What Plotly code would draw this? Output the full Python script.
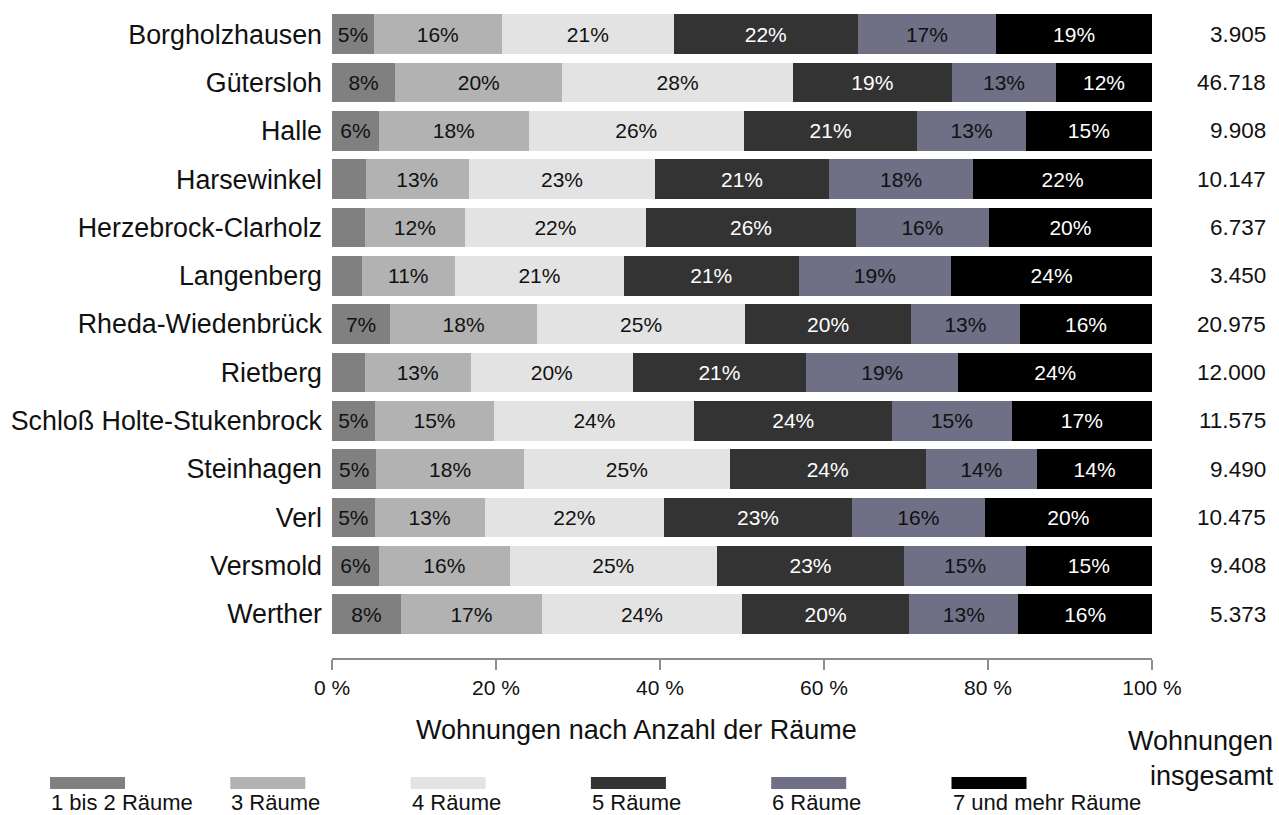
import plotly.graph_objects as go

# Gemeinden im Kreis Gütersloh
gemeinden = [
    "Borgholzhausen", "Gütersloh", "Halle", "Harsewinkel", "Herzebrock-Clarholz",
    "Langenberg", "Rheda-Wiedenbrück", "Rietberg", "Schloß Holte-Stukenbrock",
    "Steinhagen", "Verl", "Versmold", "Werther",
]

# Anteile der Wohnungen nach Anzahl der Räume (in %)
raeume_1_2 = [5.1, 7.7, 5.7, 4.1, 4.0, 3.6, 7.1, 4.0, 5.2, 5.4, 5.2, 5.7, 8.4]
raeume_3 = [15.6, 20.4, 18.3, 12.6, 12.2, 11.4, 17.9, 12.9, 14.6, 18.0, 13.4, 16.0, 17.2]
raeume_4 = [21.0, 28.1, 26.2, 22.7, 22.1, 20.6, 25.4, 19.8, 24.4, 25.1, 21.9, 25.2, 24.4]
raeume_5 = [22.4, 19.4, 21.2, 21.2, 25.6, 21.3, 20.2, 21.1, 24.1, 23.9, 22.9, 22.9, 20.4]
raeume_6 = [16.9, 12.7, 13.2, 17.6, 16.2, 18.6, 13.3, 18.6, 14.6, 13.6, 16.2, 14.8, 13.3]
raeume_7 = [19.0, 11.7, 15.4, 21.8, 19.9, 24.5, 16.1, 23.6, 17.1, 14.0, 20.4, 15.4, 16.3]

# Wohnungen insgesamt
wohnungen_gesamt = [3905, 46718, 9908, 10147, 6737, 3450, 20975, 12000, 11575, 9490, 10475, 9408, 5373]

reihen = [
    ("1 bis 2 Räume", raeume_1_2, "#808080", "#111111"),
    ("3 Räume", raeume_3, "#b2b2b2", "#111111"),
    ("4 Räume", raeume_4, "#e3e3e3", "#111111"),
    ("5 Räume", raeume_5, "#333333", "#ffffff"),
    ("6 Räume", raeume_6, "#6f6f86", "#111111"),
    ("7 und mehr Räume", raeume_7, "#000000", "#ffffff"),
]

FONT = "Liberation Sans, Arial, sans-serif"

fig = go.Figure()
for name, werte, farbe, textfarbe in reihen:
    beschriftung = [f"{v:.0f}%" if v >= 4.5 else "" for v in werte]
    fig.add_trace(go.Bar(
        y=gemeinden, x=werte, name=name, orientation="h",
        marker=dict(color=farbe, line=dict(width=0)),
        text=beschriftung, textposition="inside", insidetextanchor="middle",
        textangle=0, constraintext="none",
        textfont=dict(family=FONT, size=21, color=textfarbe),
        hoverinfo="name+x+y", showlegend=False,
    ))

# Gesamtzahl der Wohnungen rechts neben den Balken
for g, n in zip(gemeinden, wohnungen_gesamt):
    fig.add_annotation(
        x=1.1415, xref="paper", y=g, yref="y", xanchor="right", yanchor="middle",
        text=f"{n:,}".replace(",", "."), showarrow=False,
        font=dict(family=FONT, size=22.5, color="#111111"),
    )

# Achsentitel und Spaltenüberschrift
fig.add_annotation(
    x=(636 - 332) / 820, xref="paper", y=-0.111, yref="paper",
    xanchor="center", yanchor="middle", showarrow=False,
    text="Wohnungen nach Anzahl der Räume",
    font=dict(family=FONT, size=27, color="#111111"),
)
fig.add_annotation(
    x=(1276 - 332) / 820, xref="paper", y=-0.102, yref="paper",
    xanchor="right", yanchor="top", align="right", showarrow=False,
    text="Wohnungen<br>insgesamt",
    font=dict(family=FONT, size=27, color="#111111"),
)

# Legende: Farbfeld über der Beschriftung
for i, (name, _, farbe, _) in enumerate(reihen):
    x0 = (50 + i * 180.3 - 332) / 820
    x1 = x0 + 75 / 820
    fig.add_shape(
        type="rect", xref="paper", yref="paper",
        x0=x0, x1=x1, y0=-0.2022, y1=-0.1836,
        fillcolor=farbe, line=dict(width=0),
    )
    fig.add_annotation(
        x=x0 - 1 / 820, xref="paper", y=-0.2235, yref="paper",
        xanchor="left", yanchor="middle", showarrow=False, text=name,
        font=dict(family=FONT, size=22, color="#111111"),
    )

fig.update_layout(
    barmode="stack", bargap=0.18,
    width=1279, height=815,
    margin=dict(l=332, r=127, t=10, b=157),
    plot_bgcolor="white", paper_bgcolor="white",
    font=dict(family=FONT, color="#111111"),
    xaxis=dict(
        range=[0, 100], tickvals=[0, 20, 40, 60, 80, 100],
        ticktext=["0 %", "20 %", "40 %", "60 %", "80 %", "100 %"],
        showgrid=False, zeroline=False,
        showline=True, linecolor="#8c8c8c", linewidth=1.5,
        ticks="outside", ticklen=10, tickcolor="#8c8c8c", tickwidth=1.5,
        tickfont=dict(family=FONT, size=21, color="#111111"),
    ),
    yaxis=dict(
        categoryorder="array", categoryarray=gemeinden,
        range=[12.91, -0.5], showgrid=False, zeroline=False, showline=False,
        ticks="", ticklabelstandoff=9,
        tickfont=dict(family=FONT, size=26.8, color="#111111"),
    ),
)

fig.write_html("out.html")
